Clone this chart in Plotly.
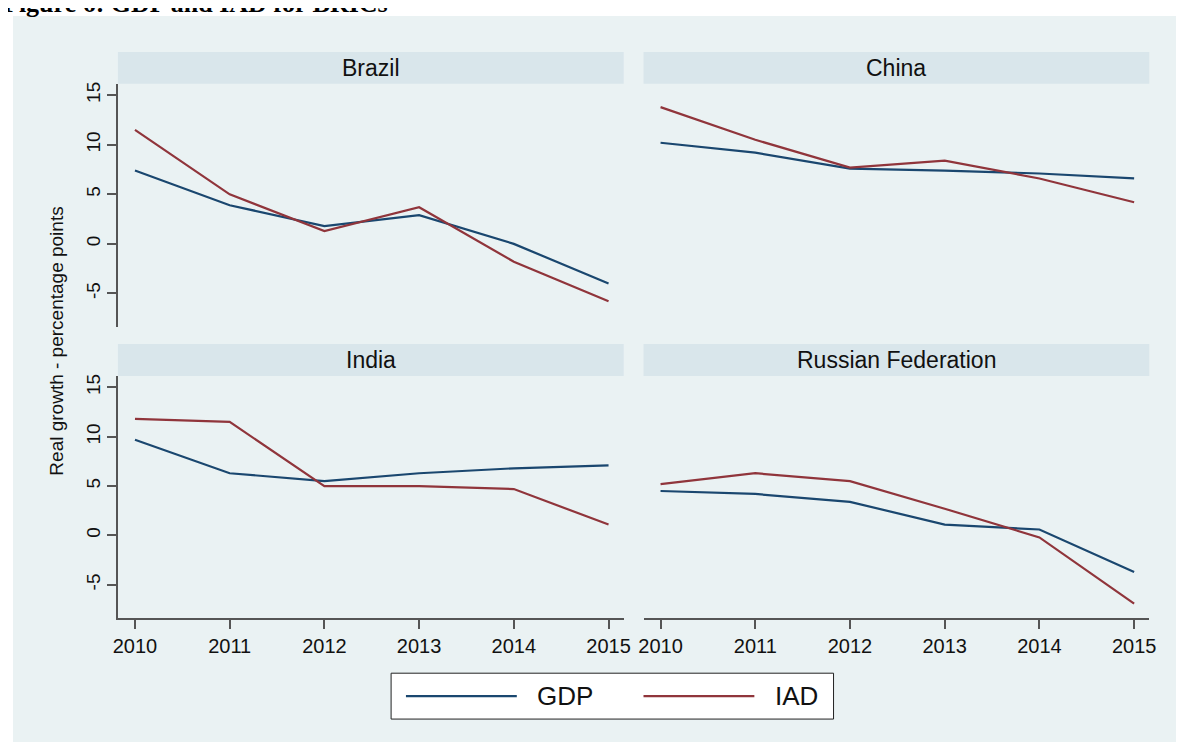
import plotly.graph_objects as go

OFF = 8  # page margin around the plot div
W, H = 1184 - OFF, 742 - OFF

years = [2010, 2011, 2012, 2013, 2014, 2015]
countries = ["Brazil", "China", "India", "Russian Federation"]

gdp_brazil = [7.4, 3.9, 1.8, 2.9, 0.0, -4.0]
iad_brazil = [11.5, 5.0, 1.3, 3.7, -1.8, -5.8]
gdp_china = [10.2, 9.2, 7.6, 7.4, 7.1, 6.6]
iad_china = [13.8, 10.5, 7.7, 8.4, 6.6, 4.2]
gdp_india = [9.7, 6.3, 5.5, 6.3, 6.8, 7.1]
iad_india = [11.8, 11.5, 5.0, 5.0, 4.7, 1.1]
gdp_russia = [4.5, 4.2, 3.4, 1.1, 0.6, -3.7]
iad_russia = [5.2, 6.3, 5.5, 2.7, -0.2, -6.9]

y_ticks = [-5, 0, 5, 10, 15]
y_tick_text = ["-5", "0", "5", "10", "15"]

GDP_COLOR = "#1a476f"
IAD_COLOR = "#90353b"
OUTER_BG = "#eaf2f3"
STRIP_BG = "#d9e6eb"
AXIS_COLOR = "#555555"
FONT = "Liberation Sans, Arial, sans-serif"


def px_x(v):
    return (v - OFF) / W


def px_y(v):
    return 1 - (v - OFF) / H


# panel boxes in screen pixels
cols = [(114, 625), (645, 1156)]
rows = [(50, 82, 326), (343, 375, 618)]  # strip top, plot top, plot bottom

series = [
    (gdp_brazil, iad_brazil),
    (gdp_china, iad_china),
    (gdp_india, iad_india),
    (gdp_russia, iad_russia),
]

fig = go.Figure()
shapes = [
    dict(type="rect", xref="paper", yref="paper", x0=px_x(8), x1=1.02, y0=-0.02, y1=px_y(14),
         fillcolor=OUTER_BG, line=dict(width=0), layer="below"),
]
annotations = []

for i, name in enumerate(countries):
    r, c = divmod(i, 2)
    left, right = cols[c]
    strip_top, top, bottom = rows[r]
    k = "" if i == 0 else str(i + 1)
    gdp, iad = series[i]

    fig.add_trace(go.Scatter(x=years, y=gdp, mode="lines", xaxis="x" + k, yaxis="y" + k,
                             line=dict(color=GDP_COLOR, width=2.2), showlegend=False,
                             hoverinfo="skip"))
    fig.add_trace(go.Scatter(x=years, y=iad, mode="lines", xaxis="x" + k, yaxis="y" + k,
                             line=dict(color=IAD_COLOR, width=2.2), showlegend=False,
                             hoverinfo="skip"))

    fig.update_layout({
        "xaxis" + k: dict(
            domain=[px_x(left), px_x(right)], anchor="y" + k, range=[2009.82, 2015.16],
            tickvals=years, ticktext=[str(y) for y in years],
            showticklabels=(r == 1), ticks="outside" if r == 1 else "",
            ticklen=9, tickwidth=1.5, tickcolor=AXIS_COLOR,
            showline=(r == 1), linecolor=AXIS_COLOR, linewidth=1.5,
            showgrid=False, zeroline=False,
            tickfont=dict(family=FONT, size=20, color="#111111"),
        ),
        "yaxis" + k: dict(
            domain=[px_y(bottom), px_y(top)], anchor="x" + k, range=[-8.4, 16.15],
            tickvals=y_ticks, ticktext=y_tick_text, tickangle=-90,
            showticklabels=(c == 0), ticks="outside" if c == 0 else "",
            ticklen=9, tickwidth=1.5, tickcolor=AXIS_COLOR,
            showline=(c == 0), linecolor=AXIS_COLOR, linewidth=1.5,
            showgrid=True, gridcolor=OUTER_BG, gridwidth=2.5, zeroline=False,
            tickfont=dict(family=FONT, size=19, color="#111111"),
        ),
    })

    shapes.append(dict(type="rect", xref="paper", yref="paper",
                       x0=px_x(left), x1=px_x(right), y0=px_y(top), y1=px_y(strip_top),
                       fillcolor=STRIP_BG, line=dict(width=0), layer="below"))
    annotations.append(dict(text=name, xref="paper", yref="paper",
                            x=px_x((left + right) / 2), y=px_y((strip_top + top) / 2),
                            xanchor="center", yanchor="middle", showarrow=False,
                            font=dict(family=FONT, size=23, color="#111111")))

# y axis title
annotations.append(dict(text="Real growth - percentage points", xref="paper", yref="paper",
                        x=px_x(52), y=px_y(340), textangle=-90, showarrow=False,
                        xanchor="center", yanchor="middle",
                        font=dict(family=FONT, size=19, color="#111111")))

# figure caption, clipped at the top as in the source document
annotations.append(dict(text="<b>Figure 6: GDP and IAD for BRICs</b>", xref="paper", yref="paper",
                        x=px_x(-4), y=px_y(18), xanchor="left", yanchor="bottom", showarrow=False,
                        font=dict(family="Liberation Serif, Times New Roman, serif", size=26,
                                  color="#000000")))

# legend box
shapes.append(dict(type="rect", xref="paper", yref="paper", x0=px_x(390), x1=px_x(837),
                   y0=px_y(719), y1=px_y(673), fillcolor="white",
                   line=dict(color="#222222", width=1)))
legend_items = [("GDP", GDP_COLOR, 405, 517, 535), ("IAD", IAD_COLOR, 645, 757, 776)]
for label, color, lx0, lx1, tx in legend_items:
    shapes.append(dict(type="line", xref="paper", yref="paper", x0=px_x(lx0), x1=px_x(lx1),
                       y0=px_y(696), y1=px_y(696), line=dict(color=color, width=2.2)))
    annotations.append(dict(text=label, xref="paper", yref="paper", x=px_x(tx), y=px_y(696),
                            xanchor="left", yanchor="middle", showarrow=False,
                            font=dict(family=FONT, size=26, color="#111111")))

fig.update_layout(
    width=W, height=H,
    margin=dict(l=0, r=0, t=0, b=0),
    paper_bgcolor="white",
    plot_bgcolor="white",
    showlegend=False,
    shapes=shapes,
    annotations=annotations,
)

fig.write_html("out.html")
